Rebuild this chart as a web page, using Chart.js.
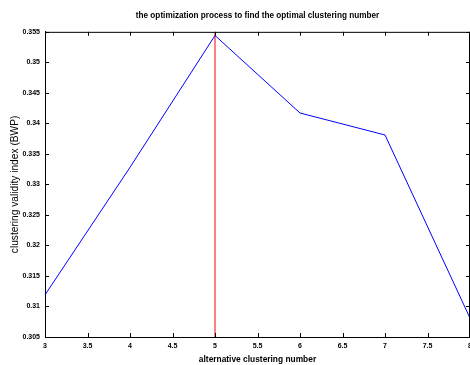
<!DOCTYPE html>
<html><head><meta charset="utf-8">
<script src="https://cdn.jsdelivr.net/npm/chart.js@4/dist/chart.umd.min.js"></script>
<style>html,body{margin:0;padding:0;background:#fff}#wrap{width:470px;height:365px}</style>
</head><body><div id="wrap"><canvas id="c" width="470" height="365"></canvas></div>
<script>
const clusterNumbers = [3, 4, 5, 6, 7, 8];
const bwpValues = [0.3119, 0.3328, 0.3544, 0.3417, 0.3381, 0.3081];
const optimalNumber = 5;
const yTickValues = [0.305, 0.31, 0.315, 0.32, 0.325, 0.33, 0.335, 0.34, 0.345, 0.35, 0.355];
const xTickValues = [3, 3.5, 4, 4.5, 5, 5.5, 6, 6.5, 7, 7.5, 8];
const titleText = 'the optimization process to find the optimal clustering number';
const xTitle = 'alternative clustering number';
const yTitle = 'clustering validity index (BWP)';

const yMin = yTickValues[0], yMax = yTickValues[yTickValues.length - 1];

const inwardTicks = {
  id: 'inwardTicks',
  afterDatasetsDraw(chart) {
    const ctx = chart.ctx, a = chart.chartArea, xs = chart.scales.x, ys = chart.scales.y;
    ctx.save();
    ctx.strokeStyle = '#000'; ctx.lineWidth = 1;
    ctx.beginPath();
    ctx.moveTo(a.left, a.top + 0.5); ctx.lineTo(a.right, a.top + 0.5);
    ctx.moveTo(a.right - 0.5, a.top); ctx.lineTo(a.right - 0.5, a.bottom);
    xTickValues.forEach(v => {
      const p = Math.round(xs.getPixelForValue(v)) + 0.5;
      ctx.moveTo(p, a.bottom); ctx.lineTo(p, a.bottom - 4);
      ctx.moveTo(p, a.top); ctx.lineTo(p, a.top + 4);
    });
    yTickValues.forEach(v => {
      const p = Math.round(ys.getPixelForValue(v)) + 0.5;
      ctx.moveTo(a.left, p); ctx.lineTo(a.left + 4, p);
      ctx.moveTo(a.right, p); ctx.lineTo(a.right - 4, p);
    });
    ctx.stroke();
    ctx.restore();
  }
};

new Chart(document.getElementById('c'), {
  type: 'line',
  data: {
    datasets: [
      {
        data: clusterNumbers.map((x, i) => ({x, y: bwpValues[i]})),
        borderColor: '#0000ff', borderWidth: 1, pointRadius: 0, tension: 0, clip: false
      },
      {
        data: [{x: optimalNumber, y: yMin}, {x: optimalNumber, y: yMax}],
        borderColor: '#ff0000', borderWidth: 1, pointRadius: 0, tension: 0
      }
    ]
  },
  options: {
    responsive: false, animation: false,
    layout: {padding: 0},
    plugins: {
      legend: {display: false}, tooltip: {enabled: false},
      title: {display: true, text: titleText, color: '#000', fullSize: false,
        font: {family: 'Liberation Sans', size: 8.2, weight: 'bold'},
        padding: {top: 11, bottom: 11}}
    },
    scales: {
      x: {
        type: 'linear', min: 3, max: 8,
        afterBuildTicks: s => { s.ticks = xTickValues.map(v => ({value: v})); },
        afterFit: s => { s.height = 28; s.paddingRight = 0; s.paddingLeft = 0; },
        ticks: {color: '#000', padding: 5, maxRotation: 0, autoSkip: false,
          font: {family: 'Liberation Sans', size: 7, weight: 'bold'},
          callback: v => String(v)},
        grid: {display: true, drawOnChartArea: false, drawTicks: false},
        border: {display: true, color: '#000', width: 1},
        title: {display: true, text: xTitle, color: '#000', padding: {top: 0, bottom: 0},
          font: {family: 'Liberation Sans', size: 8.4, weight: 'bold'}}
      },
      y: {
        type: 'linear', min: yMin, max: yMax,
        afterBuildTicks: s => { s.ticks = yTickValues.map(v => ({value: v})); },
        afterFit: s => { s.width = 45; },
        ticks: {color: '#000', padding: 5, autoSkip: false,
          font: {family: 'Liberation Sans', size: 7, weight: 'bold'},
          callback: v => String(+v.toFixed(3))},
        grid: {display: true, drawOnChartArea: false, drawTicks: false},
        border: {display: true, color: '#000', width: 1},
        title: {display: true, text: yTitle, color: '#000', padding: {top: 9, bottom: 0},
          font: {family: 'Liberation Sans', size: 10.2}}
      }
    }
  },
  plugins: [inwardTicks]
});
</script></body></html>
